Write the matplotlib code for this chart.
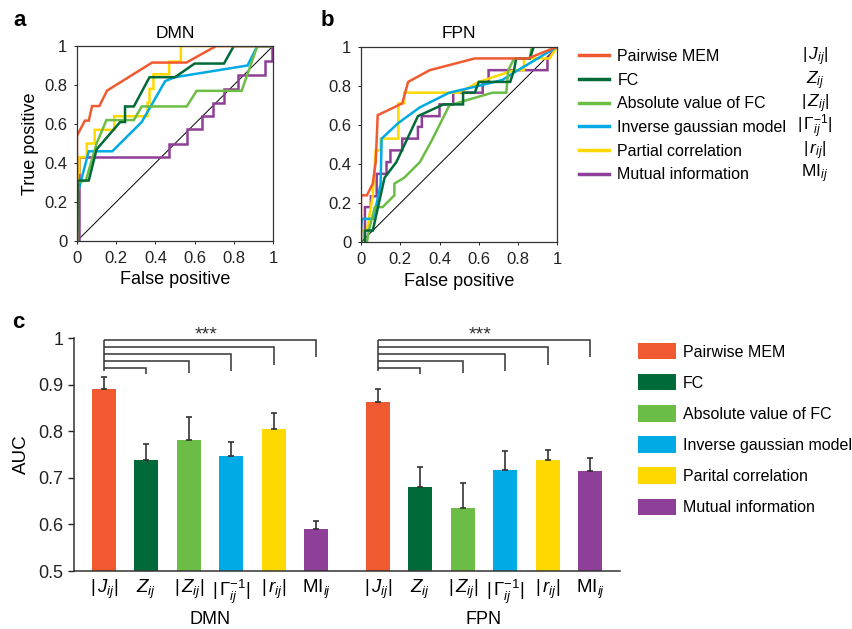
import numpy as np
import matplotlib
matplotlib.use("Agg")
import matplotlib.pyplot as plt

plt.rcParams['font.family'] = ['Liberation Sans', 'DejaVu Sans']
plt.rcParams['mathtext.fontset'] = 'custom'
plt.rcParams['mathtext.rm'] = 'Liberation Sans'
plt.rcParams['mathtext.it'] = 'Liberation Sans:italic'
plt.rcParams['mathtext.bf'] = 'Liberation Sans:bold'

# --- data ---
methods = ["Pairwise MEM", "FC", "Absolute value of FC",
           "Inverse gaussian model", "Partial correlation", "Mutual information"]
bar_names = ["Pairwise MEM", "FC", "Absolute value of FC",
             "Inverse gaussian model", "Parital correlation", "Mutual information"]
symbols = [r'$|\,J_{ij}|$', r'$Z_{ij}$', r'$|\,Z_{ij}|$',
           r'$|\,\Gamma_{ij}^{-1}|$', r'$|\,r_{ij}|$', r'$\mathrm{MI}_{ij}$']
colors = ['#F15A31', '#006B38', '#6CBD45', '#00AAE4', '#FFD800', '#8E3F97']

# ROC curves, DMN (false positive, true positive)
dmn_roc = {
    "Pairwise MEM": ([0, 0, 0.04, 0.06, 0.077, 0.114, 0.153, 0.383, 0.558, 0.71, 1.0],
                     [0, 0.54, 0.617, 0.617, 0.692, 0.692, 0.771, 0.915, 0.915, 1.0, 1.0]),
    "FC": ([0, 0.005, 0.06, 0.1, 0.22, 0.245, 0.245, 0.29, 0.37, 0.5, 0.6, 0.75, 0.8, 1.0],
           [0, 0.31, 0.31, 0.47, 0.61, 0.61, 0.69, 0.69, 0.84, 0.84, 0.91, 0.91, 1.0, 1.0]),
    "Absolute value of FC": ([0, 0.003, 0.045, 0.1, 0.15, 0.29, 0.33, 0.56, 0.61, 0.84, 0.92, 1.0],
                             [0, 0.3, 0.31, 0.5, 0.62, 0.62, 0.69, 0.69, 0.77, 0.77, 1.0, 1.0]),
    "Inverse gaussian model": ([0, 0.005, 0.06, 0.18, 0.33, 0.45, 0.5, 0.87, 0.92, 1.0],
                               [0, 0.25, 0.46, 0.46, 0.61, 0.82, 0.84, 0.9, 1.0, 1.0]),
    "Partial correlation": ([0, 0.005, 0.012, 0.012, 0.05, 0.05, 0.09, 0.09, 0.19, 0.19, 0.36,
                             0.36, 0.37, 0.37, 0.39, 0.39, 0.47, 0.47, 0.53, 0.53, 1.0],
                            [0, 0.35, 0.35, 0.43, 0.43, 0.5, 0.5, 0.57, 0.57, 0.64, 0.64,
                             0.71, 0.71, 0.78, 0.78, 0.855, 0.855, 0.92, 0.92, 1.0, 1.0]),
    "Mutual information": ([0, 0.012, 0.012, 0.468, 0.468, 0.561, 0.561, 0.638, 0.638, 0.692, 0.692,
                            0.748, 0.748, 0.821, 0.821, 0.961, 0.961, 0.995, 0.995],
                           [0, 0, 0.43, 0.43, 0.5, 0.5, 0.573, 0.573, 0.641, 0.641, 0.709,
                            0.709, 0.778, 0.778, 0.851, 0.851, 0.925, 0.925, 1.0]),
}

# ROC curves, FPN
fpn_roc = {
    "Pairwise MEM": ([0, 0, 0.03, 0.06, 0.075, 0.085, 0.21, 0.24, 0.35, 0.58, 0.85, 1.0],
                     [0, 0.24, 0.24, 0.3, 0.41, 0.65, 0.71, 0.82, 0.88, 0.94, 0.94, 1.0]),
    "FC": ([0.02, 0.02, 0.06, 0.12, 0.18, 0.29, 0.42, 0.52, 0.52, 0.58, 0.6, 0.76, 0.78, 0.79,
            0.86, 0.88, 1.0],
           [0, 0.06, 0.06, 0.33, 0.41, 0.645, 0.705, 0.705, 0.765, 0.765, 0.82, 0.82, 0.88,
            0.94, 0.94, 1.0, 1.0]),
    "Absolute value of FC": ([0.03, 0.04, 0.07, 0.11, 0.17, 0.17, 0.22, 0.25, 0.3, 0.36, 0.45,
                             0.55, 0.67, 0.74, 0.75, 0.78, 0.86, 0.87, 1.0],
                             [0, 0.06, 0.18, 0.18, 0.24, 0.3, 0.33, 0.36, 0.41, 0.52, 0.7,
                              0.73, 0.765, 0.765, 0.88, 0.94, 0.94, 1.0, 1.0]),
    "Inverse gaussian model": ([0, 0, 0.005, 0.06, 0.08, 0.1, 0.105, 0.19, 0.3, 0.45, 0.6,
                               0.72, 0.8, 1.0],
                               [0, 0.06, 0.12, 0.12, 0.2, 0.3, 0.53, 0.61, 0.69, 0.765, 0.8,
                                0.83, 0.88, 1.0]),
    "Partial correlation": ([0, 0, 0.03, 0.06, 0.075, 0.1, 0.1, 0.19, 0.19, 0.22, 0.22, 0.5,
                             0.6, 0.78, 0.83, 0.83, 0.96, 1.0],
                            [0, 0.06, 0.06, 0.24, 0.47, 0.47, 0.53, 0.53, 0.71, 0.71, 0.765,
                             0.765, 0.82, 0.88, 0.88, 0.94, 0.94, 1.0]),
    "Mutual information": ([0.02, 0.02, 0.05, 0.05, 0.08, 0.08, 0.13, 0.13, 0.15, 0.15, 0.21,
                            0.21, 0.29, 0.29, 0.31, 0.31, 0.4, 0.4, 0.47, 0.47, 0.62, 0.62,
                            0.65, 0.65, 0.95, 0.95, 1.0],
                           [0, 0.18, 0.18, 0.235, 0.235, 0.35, 0.35, 0.41, 0.41, 0.47, 0.47,
                            0.53, 0.53, 0.59, 0.59, 0.645, 0.645, 0.705, 0.705, 0.765, 0.765,
                            0.82, 0.82, 0.88, 0.88, 0.94, 1.0]),
}

# AUC bars
dmn_auc = [0.891, 0.738, 0.782, 0.747, 0.805, 0.590]
dmn_err = [0.025, 0.034, 0.049, 0.031, 0.035, 0.018]
fpn_auc = [0.863, 0.680, 0.636, 0.717, 0.738, 0.714]
fpn_err = [0.029, 0.043, 0.054, 0.040, 0.021, 0.028]

# significance brackets (MEM vs each other method)
bracket_levels = [0.937, 0.952, 0.967, 0.981, 0.997]
bracket_ends = [0.923, 0.925, 0.929, 0.943, 0.959]
stem_bottom = 0.930

# --- figure ---
W, H = 853, 629
fig = plt.figure(figsize=(W / 100, H / 100), dpi=100)


def fx(px):
    return px / W


def fy(py):
    return 1 - py / H


def roc_panel(rect, roc, title, ylabel):
    ax = fig.add_axes(rect)
    ax.plot([0, 1], [0, 1], color='black', lw=0.7, zorder=1)
    lines = []
    # draw in reverse so MEM is on top
    for name, c in list(zip(methods, colors))[::-1]:
        xs, ys = roc[name]
        ln, = ax.plot(xs, ys, color=c, lw=1.8, zorder=2, solid_joinstyle='miter')
        lines.append(ln)
    ax.set_xlim(0, 1)
    ax.set_ylim(0, 1)
    ticks = [0, 0.2, 0.4, 0.6, 0.8, 1]
    ax.set_xticks(ticks)
    ax.set_yticks(ticks)
    ax.set_xticklabels(['0', '0.2', '0.4', '0.6', '0.8', '1'])
    ax.set_yticklabels(['0', '0.2', '0.4', '0.6', '0.8', '1'])
    ax.tick_params(direction='out', length=2, width=0.7, labelsize=12, pad=5, colors='#222222')
    for s in ax.spines.values():
        s.set_linewidth(0.9)
        s.set_color('#333333')
    ax.set_xlabel('False positive', fontsize=13, labelpad=4)
    if ylabel:
        ax.set_ylabel('True positive', fontsize=13, labelpad=4)
    ax.set_title(title, fontsize=12.5, pad=6)
    return ax, lines[::-1]


ax_a, roc_lines = roc_panel([fx(77), fy(241), fx(196), 195 / H], dmn_roc, 'DMN', True)
ax_b, _ = roc_panel([fx(361), fy(242.3), fx(196.3), 195.6 / H], fpn_roc, 'FPN', False)

fig.text(fx(20), fy(21), 'a', fontsize=16, fontweight='bold', ha='center', va='center')
fig.text(fx(327), fy(21), 'b', fontsize=16, fontweight='bold', ha='center', va='center')
fig.text(fx(18), fy(323), 'c', fontsize=16, fontweight='bold', ha='center', va='center')

# ROC legend with the symbol column
leg = fig.legend(roc_lines, methods, loc='upper left', bbox_to_anchor=(fx(579), fy(49)),
                 frameon=False, fontsize=11.5, handlelength=1.9, handletextpad=0.5,
                 labelspacing=0.54, borderpad=0, borderaxespad=0)
for ln in leg.get_lines():
    ln.set_linewidth(2.5)
for i, sym in enumerate(symbols):
    fig.text(fx(815), fy(57 + i * 23.4), sym, fontsize=12.5, ha='center', va='center')

# --- panel c ---
axc = fig.add_axes([fx(74), fy(571), fx(546), 232.7 / H])
dmn_x = np.arange(6)
fpn_x = np.arange(6) + 6.45
bw = 0.56
bars = []
for xs, vals, errs in [(dmn_x, dmn_auc, dmn_err), (fpn_x, fpn_auc, fpn_err)]:
    b = axc.bar(xs, np.array(vals) - 0.5, bw, bottom=0.5, color=colors, zorder=2)
    bars.append(b)
    axc.errorbar(xs, vals, yerr=[np.zeros(6), errs], fmt='none', ecolor='#333333',
                 elinewidth=1.2, capsize=2.5, capthick=1.2, zorder=3)
    # brackets
    x0 = xs[0]
    axc.plot([x0, x0], [stem_bottom, bracket_levels[-1]], color='#333333', lw=1.1,
             clip_on=False, solid_capstyle='butt')
    for xt, lvl, end in zip(xs[1:], bracket_levels, bracket_ends):
        axc.plot([x0, xt, xt], [lvl, lvl, end], color='#333333', lw=1.1, clip_on=False,
                 solid_capstyle='butt', solid_joinstyle='miter')
    axc.text(x0 + 2.4, 1.008, '***', fontsize=14, ha='center', va='center', color='#333333')

axc.set_xlim(-0.7, 12.15)
axc.set_ylim(0.5, 1.0)
axc.set_yticks([0.5, 0.6, 0.7, 0.8, 0.9, 1.0])
axc.set_yticklabels(['0.5', '0.6', '0.7', '0.8', '0.9', '1'])
axc.set_xticks(np.concatenate([dmn_x, fpn_x]))
axc.set_xticklabels(symbols * 2)
axc.tick_params(axis='x', length=0, labelsize=13.5, pad=5)
axc.tick_params(axis='y', direction='out', length=4, width=1, labelsize=13, colors='#222222')
axc.spines['top'].set_visible(False)
axc.spines['right'].set_visible(False)
axc.spines['left'].set_color('#333333')
axc.spines['bottom'].set_color('#333333')
axc.spines['left'].set_linewidth(1.1)
axc.spines['bottom'].set_linewidth(1.1)
axc.set_ylabel('AUC', fontsize=13.5, labelpad=6)
trans = axc.get_xaxis_transform()
axc.text(dmn_x.mean(), -0.21, 'DMN', transform=trans, ha='center', va='center', fontsize=13)
axc.text(fpn_x.mean(), -0.21, 'FPN', transform=trans, ha='center', va='center', fontsize=13)

fig.legend(bars[0].patches, bar_names, loc='upper left', bbox_to_anchor=(fx(638), fy(343)),
           frameon=False, fontsize=11.5, handlelength=2.4, handleheight=1.2,
           handletextpad=0.4, labelspacing=0.91, borderpad=0, borderaxespad=0)

fig.savefig('out.png', dpi=100)
